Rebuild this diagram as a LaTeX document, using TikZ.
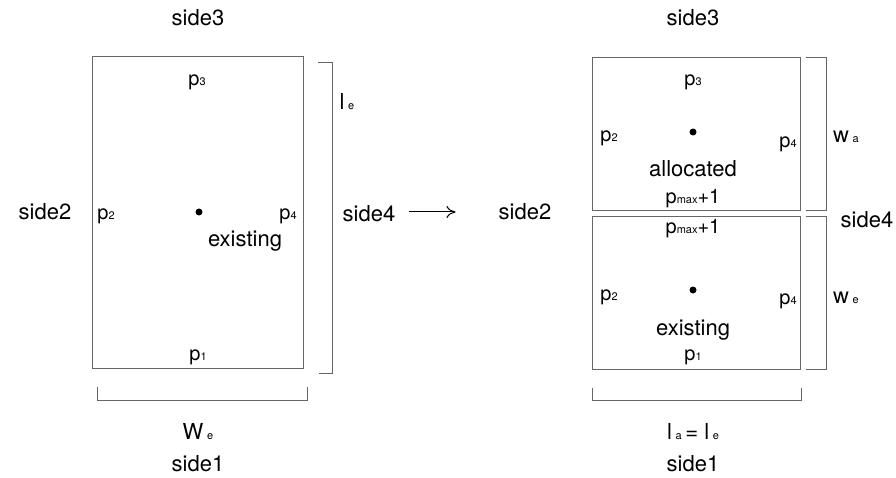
\documentclass[tikz,border=0pt]{standalone}
\usepackage{fontspec}
\setmainfont{TeX Gyre Heros}
\usetikzlibrary{arrows.meta,positioning}
\newcommand{\sbs}[1]{{\fontsize{11}{11}\selectfont #1}}
\tikzset{
  lbl/.style={inner sep=0pt, font=\fontsize{22}{24}\selectfont, text height=16pt, text depth=4pt},
  sublbl/.style={lbl, font=\fontsize{20}{24}\selectfont},
  area/.style={draw=black!60, line width=0.9pt},
  brk/.style={draw=black!60, line width=0.9pt},
  dot/.style={circle, fill=black, inner sep=0pt, minimum size=7pt},
  arr/.style={-{To[length=9pt,width=12pt]}, line width=1pt}
}

\begin{document}
\begin{tikzpicture}[x=1pt,y=-1pt]
\useasboundingbox (0,0) rectangle (896,478);

% before: existing area
\draw[area] (92,56) rectangle (303,368);
\draw[brk] (318,62) -- (332,62) -- (332,373) -- (319,373);
\draw[brk] (97,387) -- (97,400) -- (307,400) -- (307,387);
\node[lbl] (topL) at (198,20) {side3};
\node[lbl] (leftL) at (45,214) {side2};
\node[lbl] (rightL) at (369,216) {side4};
\node[lbl] (botL) at (198,465) {side1};
\node[sublbl] (p3L) at (197,80) {p\sbs{3}};
\node[sublbl] (p2L) at (106,214) {p\sbs{2}};
\node[sublbl] (p4L) at (288,214) {p\sbs{4}};
\node[sublbl] (p1L) at (198,354) {p\sbs{1}};
\node[dot] (cL) at (199,212) {};
\node[lbl] (exL) at (245,241) {existing};
\node[lbl] (le) at (347,104) {l\,\sbs{e}};
\node[lbl] (we) at (198,433) {W\,\sbs{e}};

% after: allocated + existing
\draw[area] (592,57) rectangle (800,210);
\draw[area] (592,216) rectangle (800,369);
\draw[brk] (806,57) -- (826,57) -- (826,210) -- (806,210);
\draw[brk] (806,216) -- (826,216) -- (826,369) -- (806,369);
\draw[brk] (592,388) -- (592,400) -- (801,400) -- (801,388);
\node[lbl] (topR) at (693,20) {side3};
\node[lbl] (leftR) at (525,214) {side2};
\node[lbl] (rightR) at (867,222) {side4};
\node[lbl] (botR) at (693,465) {side1};
\node[sublbl] (p3A) at (693,80) {p\sbs{3}};
\node[sublbl] (p2A) at (609,136) {p\sbs{2}};
\node[sublbl] (p4A) at (788,142) {p\sbs{4}};
\node[dot] (cA) at (693,132) {};
\node[lbl] (alA) at (693,171) {allocated};
\node[sublbl] (pmA) at (693,198) {p\sbs{max}+1};
\node[sublbl] (pmE) at (693,228) {p\sbs{max}+1};
\node[sublbl] (p2E) at (609,294) {p\sbs{2}};
\node[sublbl] (p4E) at (788,298) {p\sbs{4}};
\node[dot] (cE) at (693,290) {};
\node[lbl] (exE) at (693,329) {existing};
\node[sublbl] (p1E) at (693,354) {p\sbs{1}};
\node[lbl] (wa) at (846,137) {w\,\sbs{a}};
\node[lbl] (wE) at (846,297) {w\,\sbs{e}};
\node[lbl] (la) at (693,433) {l\,\sbs{a}\,= l\,\sbs{e}};

\coordinate (aS) at ([xshift=14pt,yshift=4pt]rightL.east);
\coordinate (aE) at ([xshift=-43pt,yshift=2pt]leftR.west);
\draw[arr] (aS) -- (aE);
\end{tikzpicture}
\end{document}
